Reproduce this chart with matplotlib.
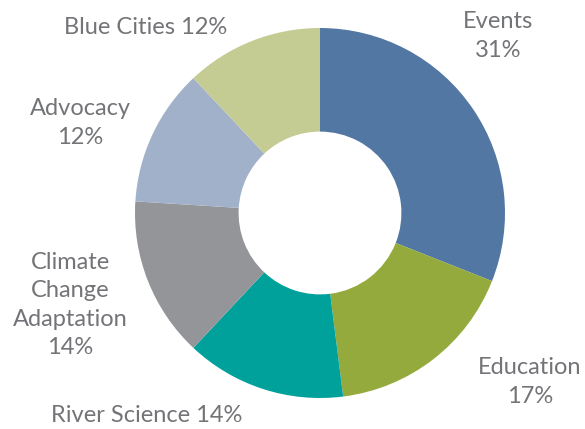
import matplotlib
matplotlib.use("Agg")
import matplotlib.pyplot as plt

# data
categories = ["Events", "Education", "River Science", "Climate Change Adaptation", "Advocacy", "Blue Cities"]
shares = [31, 17, 14, 14, 12, 12]
colors = ["#5377a3", "#95aa3d", "#00a19a", "#939598", "#a1b1ca", "#c5cc93"]

# label text and where it sits (figure pixels, top-left origin)
label_text = ["Events\n31%", "Education\n17%", "River Science 14%",
              "Climate\nChange\nAdaptation\n14%", "Advocacy\n12%", "Blue Cities 12%"]
label_pos = [(498, 36), (530, 382), (147, 416), (70, 305), (80, 123), (146, 28)]

W, H = 585, 429
fig = plt.figure(figsize=(W / 100, H / 100), dpi=100)

cx, cy, r = 320, 213, 185
ax = fig.add_axes([(cx - r) / W, (H - cy - r) / H, 2 * r / W, 2 * r / H])
ax.pie(shares, colors=colors, startangle=90, counterclock=False, radius=1,
       wedgeprops=dict(width=0.56, edgecolor="none"))
ax.set_xlim(-1, 1)
ax.set_ylim(-1, 1)
ax.set_aspect("equal")
ax.axis("off")

for txt, (x, y) in zip(label_text, label_pos):
    fig.text(x / W, 1 - y / H, txt, ha="center", va="center", fontsize=17,
             color="#737477", family="Lato", linespacing=1.45)

fig.savefig("out.png", dpi=100)
